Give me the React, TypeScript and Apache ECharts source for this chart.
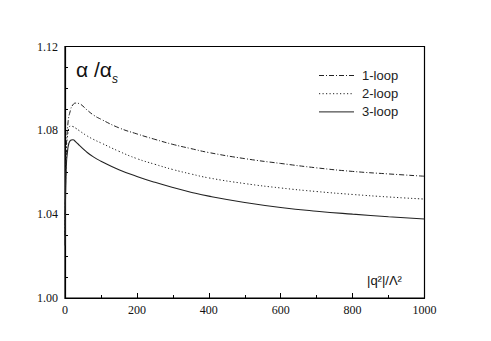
import React, { useEffect, useRef } from "react";
import * as echarts from "echarts";

const xValues = [0, 3, 8, 15, 22, 30, 40, 60, 80, 100, 150, 200, 250, 300, 350, 400, 500, 600, 700, 800, 900, 1000];
const loop1 = [1.03, 1.066, 1.083, 1.0895, 1.0922, 1.093, 1.0927, 1.0899, 1.0872, 1.0853, 1.0812, 1.0783, 1.0757, 1.0733, 1.0713, 1.0694, 1.0665, 1.0642, 1.0621, 1.0604, 1.0592, 1.0581];
const loop2 = [1.03, 1.066, 1.0785, 1.082, 1.0818, 1.081, 1.0798, 1.0775, 1.0756, 1.074, 1.07, 1.0665, 1.0638, 1.0613, 1.0592, 1.0573, 1.0546, 1.0525, 1.0508, 1.0494, 1.0482, 1.0472];
const loop3 = [1.025, 1.06, 1.0715, 1.0752, 1.0755, 1.0745, 1.0728, 1.0697, 1.0672, 1.0653, 1.0612, 1.058, 1.0552, 1.0527, 1.0505, 1.0486, 1.0456, 1.0432, 1.0414, 1.04, 1.0388, 1.0377];
const seriesNames = ["1-loop", "2-loop", "3-loop"];
const xTitle = "|q²|/Λ²";

const pair = (ys: number[]) => xValues.map((x, i) => [x, ys[i]]);

const dashes: (number[] | null)[] = [[5, 2, 1, 2], [1.2, 2.3], null];

export default function App() {
  const ref = useRef<HTMLDivElement>(null);
  useEffect(() => {
    if (!ref.current) return;
    const chart = echarts.init(ref.current, undefined, { renderer: "svg" });
    const lineColor = "#222";
    const sans = "Liberation Sans, Arial, sans-serif";
    const serif = "Liberation Serif, Times New Roman, serif";
    const common = {
      type: "line" as const,
      symbol: "none",
      smooth: 0.5,
      silent: true,
    };
    const legendTop = 75.5;
    const legendGap = 18.2;
    const legendGraphics: any[] = [];
    seriesNames.forEach((name, i) => {
      const y = legendTop + i * legendGap;
      legendGraphics.push({
        type: "line",
        shape: { x1: 319, y1: y, x2: 354, y2: y },
        style: { stroke: lineColor, lineWidth: 1, lineDash: dashes[i] || undefined },
      });
      legendGraphics.push({
        type: "text",
        x: 362,
        y: y,
        style: { text: name, fontFamily: sans, fontSize: 13, fill: "#222", verticalAlign: "middle" },
      });
    });
    chart.setOption({
      animation: false,
      backgroundColor: "#fff",
      grid: {
        left: 65,
        top: 46.5,
        right: 66.5,
        bottom: 43,
        show: true,
        borderColor: "#000",
        borderWidth: 1.2,
        backgroundColor: "transparent",
      },
      xAxis: {
        type: "value",
        min: 0,
        max: 1000,
        interval: 200,
        axisLine: { show: true, lineStyle: { color: "#000", width: 1.2 } },
        axisTick: { show: true, inside: true, length: 5, lineStyle: { color: "#000" } },
        minorTick: { show: true, splitNumber: 2, length: 3, lineStyle: { color: "#000" } },
        splitLine: { show: false },
        axisLabel: { fontFamily: serif, fontSize: 12, color: "#111", margin: 6, formatter: (v: number) => String(v) },
      },
      yAxis: {
        type: "value",
        min: 1.0,
        max: 1.12,
        interval: 0.04,
        axisLine: { show: true, lineStyle: { color: "#000", width: 1.2 } },
        axisTick: { show: true, inside: true, length: 4, lineStyle: { color: "#000" } },
        minorTick: { show: true, splitNumber: 4, length: 3, lineStyle: { color: "#000" } },
        splitLine: { show: false },
        axisLabel: {
          fontFamily: serif,
          fontSize: 12,
          color: "#111",
          margin: 7,
          formatter: (v: number) => v.toFixed(2),
        },
      },
      graphic: [
        {
          type: "text",
          left: 76,
          top: 59,
          style: {
            text: "{a|α /α}{s|s}",
            rich: {
              a: { fontFamily: sans, fontSize: 21, fill: "#111", verticalAlign: "bottom" },
              s: { fontFamily: sans, fontSize: 12, fontStyle: "italic", fill: "#111", verticalAlign: "bottom", padding: [0, 0, -5, 0] },
            },
          },
        },
        {
          type: "text",
          left: 367,
          top: 274,
          style: { text: xTitle, fontFamily: sans, fontSize: 13, fill: "#111" },
        },
        ...legendGraphics,
      ],
      series: [
        { ...common, name: seriesNames[0], data: pair(loop1), lineStyle: { color: lineColor, width: 1, type: dashes[0] } },
        { ...common, name: seriesNames[1], data: pair(loop2), lineStyle: { color: lineColor, width: 1, type: dashes[1] } },
        { ...common, name: seriesNames[2], data: pair(loop3), lineStyle: { color: lineColor, width: 1.1, type: "solid" } },
      ],
    });
    return () => chart.dispose();
  }, []);
  return <div ref={ref} style={{ width: 491, height: 341, position: "absolute", left: 0, top: 0 }} />;
}
